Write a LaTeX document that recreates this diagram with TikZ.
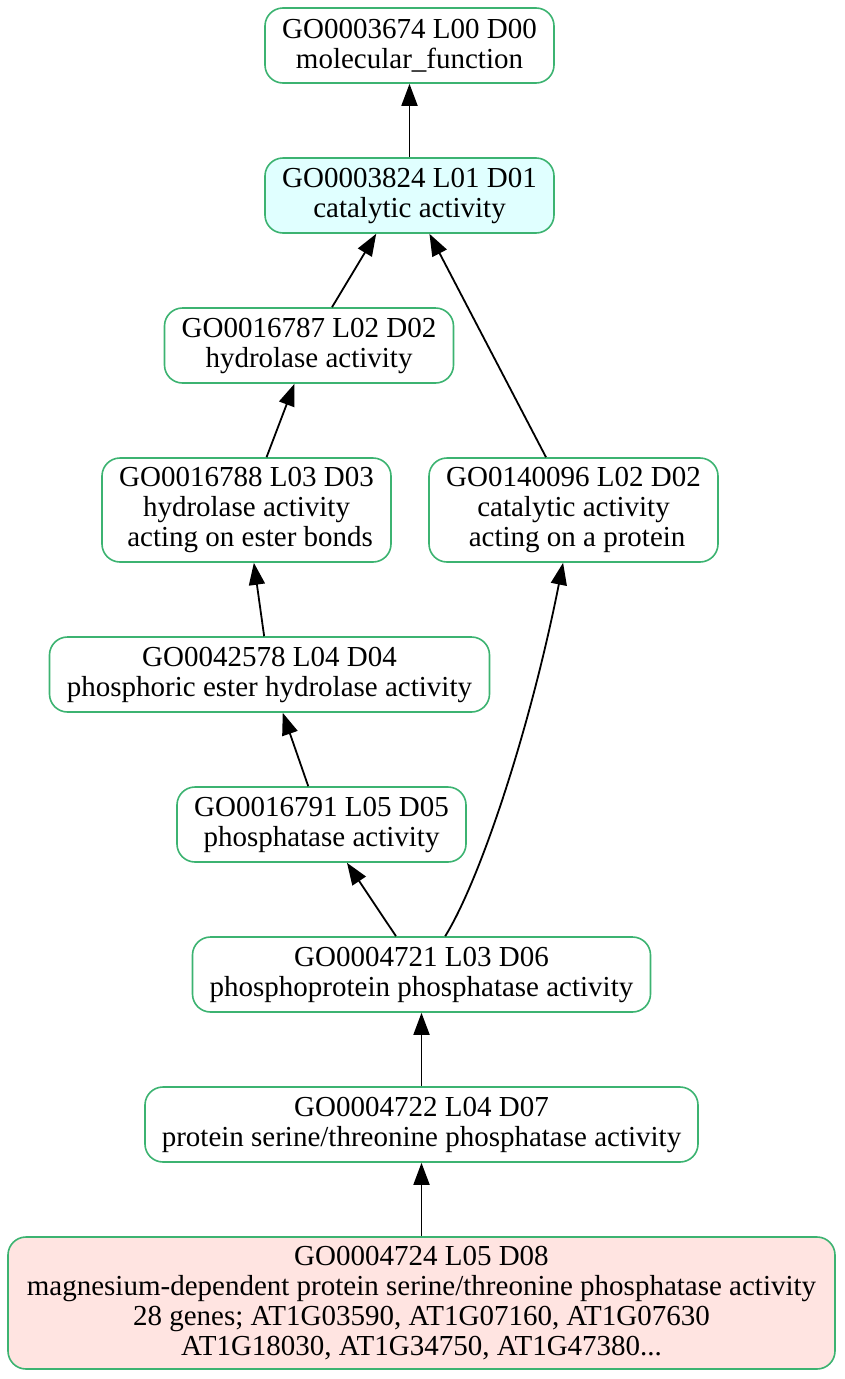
\documentclass[tikz,border=0pt]{standalone}
\usepackage{fontspec}
\setmainfont{Liberation Serif}
\usepackage{tikz}
\usetikzlibrary{arrows.meta,positioning}
\definecolor{termline}{RGB}{60,179,113}
\definecolor{catfill}{RGB}{224,255,255}
\definecolor{leaffill}{RGB}{255,228,225}

\begin{document}
\begin{tikzpicture}[
    x=1pt, y=-1pt,
    term/.style={rectangle, draw=termline, line width=1.6pt, rounded corners=18pt, fill=white, inner sep=0pt, align=center, minimum width=289pt, minimum height=75pt, font=\fontsize{29}{30}\selectfont},
    arrow/.style={-{Triangle[length=22pt,width=16pt]}, line width=1.8pt}
]
    \useasboundingbox (0,0) rectangle (844,1379);

    % Nodes
    \node[term] (go3674) at (409.5,45.5) {GO0003674 L00 D00\\molecular\_function};
    \node[term, fill=catfill] (go3824) at (409.5,195.5) {GO0003824 L01 D01\\catalytic activity};
    \node[term] (go16787) at (309,345.5) {GO0016787 L02 D02\\hydrolase activity};
    \node[term, minimum height=104pt] (go16788) at (246.5,510) {GO0016788 L03 D03\\hydrolase activity\\~acting on ester bonds};
    \node[term, minimum height=104pt] (go140096) at (573.5,510) {GO0140096 L02 D02\\catalytic activity\\~acting on a protein};
    \node[term, minimum width=440pt] (go42578) at (269.5,674.5) {GO0042578 L04 D04\\phosphoric ester hydrolase activity};
    \node[term] (go16791) at (321.5,824.5) {GO0016791 L05 D05\\phosphatase activity};
    \node[term, minimum width=458pt] (go4721) at (421.5,974.5) {GO0004721 L03 D06\\phosphoprotein phosphatase activity};
    \node[term, minimum width=553pt] (go4722) at (421.5,1124.5) {GO0004722 L04 D07\\protein serine/threonine phosphatase activity};
    \node[term, fill=leaffill, minimum width=827pt, minimum height=132pt] (go4724) at (421.5,1303) {GO0004724 L05 D08\\magnesium-dependent protein serine/threonine phosphatase activity\\28 genes; AT1G03590, AT1G07160, AT1G07630\\AT1G18030, AT1G34750, AT1G47380...};

    % Arrows
    \draw[arrow] (go3824) -- (go3674);
    \draw[arrow] (go16787) -- (go3824.-131);
    \draw[arrow] (go140096) -- (go3824);
    \draw[arrow] (go16788) -- (go16787);
    \draw[arrow] (go42578) -- (go16788);
    \draw[arrow] (go16791) -- (go42578);
    \draw[arrow] (go4721) -- (go16791);
    \draw[arrow] (go4721) .. controls (480,880) and (530,730) .. (go140096);
    \draw[arrow] (go4722) -- (go4721);
    \draw[arrow] (go4724) -- (go4722);
\end{tikzpicture}
\end{document}
